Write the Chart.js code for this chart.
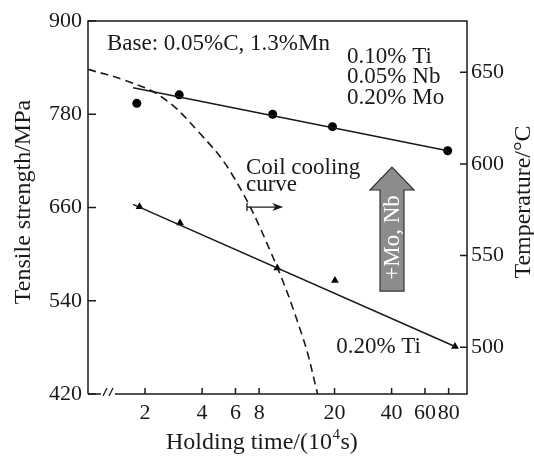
<!DOCTYPE html>
<html>
<head>
<meta charset="utf-8">
<script src="https://cdn.jsdelivr.net/npm/chart.js@4.4.1/dist/chart.umd.min.js"></script>
<style>
  html, body { margin: 0; padding: 0; background: #fff; }
  #wrap { width: 534px; height: 456px; }
</style>
</head>
<body>
<div id="wrap"><canvas id="grafica" width="534" height="456"></canvas></div>
<script>
// --- DATOS ---
// 0.10% Ti + 0.05% Nb + 0.20% Mo (circulos)
const tiempoTiNbMo = [1.81, 3.03, 9.43, 19.5, 79.1];
const resistenciaTiNbMo = [794, 805, 780, 764, 733];
const ajusteTiNbMoTiempo = [1.73, 79.1];
const ajusteTiNbMoResistencia = [814, 733];

// 0.20% Ti (triangulos)
const tiempoTi = [1.87, 3.06, 9.97, 20.1, 86.4];
const resistenciaTi = [661, 640, 582, 566, 481];
const ajusteTiTiempo = [1.73, 86.4];
const ajusteTiResistencia = [664, 481];

// curva de enfriamiento de la bobina (eje derecho, °C)
const enfriamientoTiempo = [1.0, 1.57, 2.46, 3.81, 5.75, 9.13, 13.6, 16.4];
const enfriamientoTemp = [651.6, 645.6, 636.4, 617.8, 594.4, 552.9, 505.4, 473.3];

// marcas de los ejes
const ticksTiempo = [2, 4, 6, 8, 20, 40, 60, 80];
const ticksResistencia = [420, 540, 660, 780, 900];
const ticksTemp = [500, 550, 600, 650];

const FUENTE = "'Liberation Serif', 'Times New Roman', serif";
const NEGRO = '#1a1a1a';

function puntos(xs, ys) {
    return xs.map((x, i) => ({ x: x, y: ys[i] }));
}

// --- MARCO, MARCAS INTERIORES Y TEXTOS ---
const pluginDibujo = {
    id: 'dibujo',
    afterDatasetsDraw(chart) {
        const ctx = chart.ctx;
        const a = chart.chartArea;
        const sx = chart.scales.x, sy = chart.scales.y, sy2 = chart.scales.y2;

        ctx.save();
        ctx.strokeStyle = NEGRO;
        ctx.lineWidth = 1.5;
        ctx.lineCap = 'butt';

        // marco (con corte en el eje x)
        ctx.beginPath();
        ctx.moveTo(a.left, a.bottom);
        ctx.lineTo(a.left, a.top);
        ctx.lineTo(a.right, a.top);
        ctx.lineTo(a.right, a.bottom);
        ctx.lineTo(a.left + 27, a.bottom);
        ctx.moveTo(a.left, a.bottom);
        ctx.lineTo(a.left + 13, a.bottom);
        ctx.stroke();
        ctx.lineWidth = 1.3;
        ctx.beginPath();
        ctx.moveTo(a.left + 15, a.bottom + 2);
        ctx.lineTo(a.left + 19, a.bottom - 6);
        ctx.moveTo(a.left + 21, a.bottom + 2);
        ctx.lineTo(a.left + 25, a.bottom - 6);
        ctx.stroke();

        // marcas hacia dentro
        ctx.lineWidth = 1.5;
        ctx.beginPath();
        ticksTiempo.forEach(v => {
            const px = sx.getPixelForValue(v);
            ctx.moveTo(px, a.bottom);
            ctx.lineTo(px, a.bottom - 6);
        });
        ticksResistencia.forEach(v => {
            const py = sy.getPixelForValue(v);
            ctx.moveTo(a.left, py);
            ctx.lineTo(a.left + 8, py);
        });
        ticksTemp.forEach(v => {
            const py = sy2.getPixelForValue(v);
            ctx.moveTo(a.right, py);
            ctx.lineTo(a.right - 7, py);
        });
        ctx.stroke();

        // textos
        ctx.fillStyle = NEGRO;
        ctx.font = '23px ' + FUENTE;
        ctx.textAlign = 'left';
        ctx.textBaseline = 'alphabetic';
        ctx.fillText('Base: 0.05%C, 1.3%Mn', sx.getPixelForValue(1.26), sy.getPixelForValue(863));

        ctx.textBaseline = 'middle';
        ctx.fillText('0.10% Ti', sx.getPixelForValue(23.3), sy.getPixelForValue(853.7));
        ctx.fillText('0.05% Nb', sx.getPixelForValue(23.3), sy.getPixelForValue(827.9));
        ctx.fillText('0.20% Mo', sx.getPixelForValue(23.3), sy.getPixelForValue(800.9));
        ctx.fillText('0.20% Ti', sx.getPixelForValue(20.4), sy.getPixelForValue(480.5));

        ctx.textBaseline = 'alphabetic';
        ctx.fillText('Coil cooling', sx.getPixelForValue(6.82), sy.getPixelForValue(703));
        ctx.fillText('curve', sx.getPixelForValue(6.82), sy.getPixelForValue(681));

        // flecha pequeña |-->
        const fx0 = sx.getPixelForValue(6.9), fx1 = sx.getPixelForValue(10.6);
        const fy = sy.getPixelForValue(660.6);
        ctx.lineWidth = 1.3;
        ctx.beginPath();
        ctx.moveTo(fx0, fy - 4);
        ctx.lineTo(fx0, fy + 4);
        ctx.moveTo(fx0, fy);
        ctx.lineTo(fx1 - 4, fy);
        ctx.stroke();
        ctx.beginPath();
        ctx.moveTo(fx1 + 1, fy);
        ctx.lineTo(fx1 - 10, fy - 4);
        ctx.lineTo(fx1 - 7, fy);
        ctx.lineTo(fx1 - 10, fy + 4);
        ctx.closePath();
        ctx.fill();

        // flecha gruesa "+Mo, Nb"
        const cx = sx.getPixelForValue(40.2);
        const yPunta = sy.getPixelForValue(712);
        const yBase = sy.getPixelForValue(682.5);
        const yFin = sy.getPixelForValue(552.5);
        ctx.beginPath();
        ctx.moveTo(cx, yPunta);
        ctx.lineTo(cx + 22, yBase);
        ctx.lineTo(cx + 12, yBase);
        ctx.lineTo(cx + 12, yFin);
        ctx.lineTo(cx - 12, yFin);
        ctx.lineTo(cx - 12, yBase);
        ctx.lineTo(cx - 22, yBase);
        ctx.closePath();
        ctx.fillStyle = '#8c8c8c';
        ctx.fill();
        ctx.lineWidth = 1.2;
        ctx.strokeStyle = '#333';
        ctx.stroke();
        ctx.save();
        ctx.translate(cx + 1, (yBase + yFin) / 2 - 3);
        ctx.rotate(-Math.PI / 2);
        ctx.fillStyle = '#fff';
        ctx.font = '23px ' + FUENTE;
        ctx.textAlign = 'center';
        ctx.textBaseline = 'middle';
        ctx.fillText('+Mo, Nb', 0, 0);
        ctx.restore();

        // titulo eje x con superindice
        ctx.fillStyle = NEGRO;
        ctx.textAlign = 'left';
        ctx.textBaseline = 'alphabetic';
        let xt = 166;
        const base = 449;
        ctx.font = '24px ' + FUENTE;
        ctx.fillText('Holding time/(10', xt, base);
        xt += ctx.measureText('Holding time/(10').width;
        ctx.font = '15px ' + FUENTE;
        ctx.fillText('4', xt + 0.5, base - 10);
        xt += ctx.measureText('4').width + 1;
        ctx.font = '24px ' + FUENTE;
        ctx.fillText('s)', xt, base);

        // titulos ejes y
        ctx.textAlign = 'center';
        ctx.textBaseline = 'middle';
        ctx.save();
        ctx.translate(24, 202);
        ctx.rotate(-Math.PI / 2);
        ctx.fillText('Tensile strength/MPa', 0, 0);
        ctx.restore();

        ctx.save();
        ctx.translate(524, 202);
        ctx.rotate(-Math.PI / 2);
        ctx.fillText('Temperature/\u00B0C', 0, 0);
        ctx.restore();

        ctx.restore();
    }
};

const fuenteTicks = { family: FUENTE, size: 22 };

const grafica = new Chart(document.getElementById('grafica').getContext('2d'), {
    type: 'scatter',
    data: {
        datasets: [
            {
                label: 'Coil cooling curve',
                data: puntos(enfriamientoTiempo, enfriamientoTemp),
                yAxisID: 'y2',
                showLine: true,
                borderColor: NEGRO,
                borderWidth: 1.6,
                borderDash: [8, 5],
                pointRadius: 0,
                tension: 0.4
            },
            {
                label: 'ajuste Ti-Nb-Mo',
                data: puntos(ajusteTiNbMoTiempo, ajusteTiNbMoResistencia),
                showLine: true,
                borderColor: NEGRO,
                borderWidth: 1.6,
                pointRadius: 0
            },
            {
                label: 'ajuste Ti',
                data: puntos(ajusteTiTiempo, ajusteTiResistencia),
                showLine: true,
                borderColor: NEGRO,
                borderWidth: 1.6,
                pointRadius: 0
            },
            {
                label: '0.10% Ti, 0.05% Nb, 0.20% Mo',
                data: puntos(tiempoTiNbMo, resistenciaTiNbMo),
                pointStyle: 'circle',
                pointRadius: 4.5,
                backgroundColor: '#000',
                borderColor: '#000',
                borderWidth: 0
            },
            {
                label: '0.20% Ti',
                data: puntos(tiempoTi, resistenciaTi),
                pointStyle: 'triangle',
                pointRadius: 4.5,
                backgroundColor: '#000',
                borderColor: '#000',
                borderWidth: 0
            }
        ]
    },
    options: {
        responsive: false,
        animation: false,
        devicePixelRatio: 1,
        layout: { padding: { top: 21, left: 0, right: 0, bottom: 0 } },
        plugins: { legend: { display: false }, tooltip: { enabled: false } },
        scales: {
            x: {
                type: 'logarithmic',
                position: 'bottom',
                min: 1,
                max: 100,
                grid: { display: false, drawTicks: false },
                border: { display: false },
                afterBuildTicks: s => { s.ticks = ticksTiempo.map(v => ({ value: v })); },
                afterFit: s => { s.height = 62; },
                ticks: { font: fuenteTicks, color: NEGRO, padding: 6, maxRotation: 0, autoSkip: false, callback: v => String(v) }
            },
            y: {
                position: 'left',
                min: 420,
                max: 900,
                grid: { display: false, drawTicks: false },
                border: { display: false },
                afterBuildTicks: s => { s.ticks = ticksResistencia.map(v => ({ value: v })); },
                afterFit: s => { s.width = 88; },
                ticks: { font: fuenteTicks, color: NEGRO, padding: 6, callback: v => String(v) }
            },
            y2: {
                position: 'right',
                min: 474.5,
                max: 678,
                grid: { display: false, drawTicks: false },
                border: { display: false },
                afterBuildTicks: s => { s.ticks = ticksTemp.map(v => ({ value: v })); },
                afterFit: s => { s.width = 67; },
                ticks: { font: fuenteTicks, color: NEGRO, padding: 4, callback: v => String(v) }
            }
        }
    },
    plugins: [pluginDibujo]
});
</script>
</body>
</html>
